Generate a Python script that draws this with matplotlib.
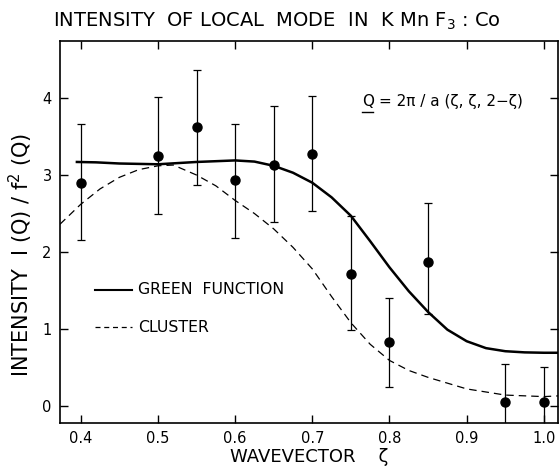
import numpy as np
import matplotlib
matplotlib.use("Agg")
import matplotlib.pyplot as plt

## measured points
zeta = [0.40, 0.50, 0.55, 0.60, 0.65, 0.70, 0.75, 0.80, 0.85, 0.95, 1.00]
inten = [2.90, 3.25, 3.62, 2.93, 3.13, 3.28, 1.72, 0.83, 1.87, 0.05, 0.05]
err_lo = [0.75, 0.75, 0.75, 0.75, 0.74, 0.75, 0.74, 0.58, 0.67, 0.49, 0.45]
err_hi = [0.76, 0.76, 0.74, 0.73, 0.77, 0.75, 0.75, 0.57, 0.77, 0.49, 0.45]

## green function curve
green_x = [0.395, 0.42, 0.45, 0.50, 0.55, 0.60, 0.625, 0.65, 0.675, 0.70, 0.725,
           0.75, 0.775, 0.80, 0.825, 0.85, 0.875, 0.90, 0.925, 0.95, 0.975, 1.00, 1.02]
green_y = [3.17, 3.165, 3.15, 3.14, 3.17, 3.19, 3.175, 3.12, 3.03, 2.90, 2.71,
           2.47, 2.14, 1.80, 1.49, 1.22, 0.99, 0.84, 0.75, 0.71, 0.695, 0.69, 0.69]

## cluster curve
clus_x = [0.373, 0.40, 0.425, 0.45, 0.475, 0.50, 0.52, 0.55, 0.575, 0.60, 0.625,
          0.65, 0.675, 0.70, 0.725, 0.75, 0.775, 0.80, 0.825, 0.85, 0.90, 0.95, 1.00, 1.02]
clus_y = [2.36, 2.62, 2.82, 2.97, 3.07, 3.12, 3.13, 3.00, 2.86, 2.67, 2.50,
          2.30, 2.06, 1.78, 1.42, 1.08, 0.80, 0.59, 0.46, 0.37, 0.22, 0.14, 0.12, 0.13]

xticks = [0.4, 0.5, 0.6, 0.7, 0.8, 0.9, 1.0]
xticklabels = ['0.4', '0.5', '0.6', '0.7', '0.8', '0.9', '1.0']
yticks = [0, 1, 2, 3, 4]

fig = plt.figure(figsize=(5.6, 4.68), dpi=100)
ax = fig.add_axes([0.107, 0.096, 0.889, 0.816])

ax.plot(green_x, green_y, color='black', lw=1.8)
ax.plot(clus_x, clus_y, color='black', lw=0.9, dashes=(6, 4))
ax.errorbar(zeta, inten, yerr=[err_lo, err_hi], fmt='o', color='black',
            ms=6.5, elinewidth=0.9, capsize=2.8, capthick=0.9)

# legend drawn by hand
ax.plot([0.418, 0.467], [1.51, 1.51], color='black', lw=1.5)
ax.plot([0.418, 0.467], [1.02, 1.02], color='black', lw=0.9, dashes=(4, 3))
ax.text(0.474, 1.51, 'GREEN  FUNCTION', fontsize=11.3, va='center')
ax.text(0.474, 1.02, 'CLUSTER', fontsize=11.3, va='center')

# Q vector annotation, Q underlined
ax.text(0.765, 3.96, 'Q', fontsize=11, va='center')
ax.plot([0.765, 0.779], [3.82, 3.82], color='black', lw=1.0)
ax.text(0.787, 3.96, '= 2\u03c0 / a (\u03b6, \u03b6, 2\u2212\u03b6)', fontsize=11, va='center')

ax.set_xlim(0.373, 1.018)
ax.set_ylim(-0.224, 4.74)
ax.set_xticks(xticks)
ax.set_xticklabels(xticklabels)
ax.set_yticks(yticks)
ax.tick_params(direction='in', length=6, width=1, top=True, right=True,
               labelsize=10.5, pad=6)
for s in ax.spines.values():
    s.set_linewidth(1.2)

ax.set_xlabel('WAVEVECTOR    \u03b6', fontsize=13, labelpad=1)
ax.set_ylabel(r'INTENSITY  I (Q) / f$^2$ (Q)', fontsize=15)
ax.yaxis.set_label_coords(-0.05, 0.44)
fig.text(0.495, 0.955, r'INTENSITY  OF LOCAL  MODE  IN  K Mn F$_3$ : Co',
         fontsize=14, ha='center', va='center')

fig.savefig('out.png', dpi=100)
